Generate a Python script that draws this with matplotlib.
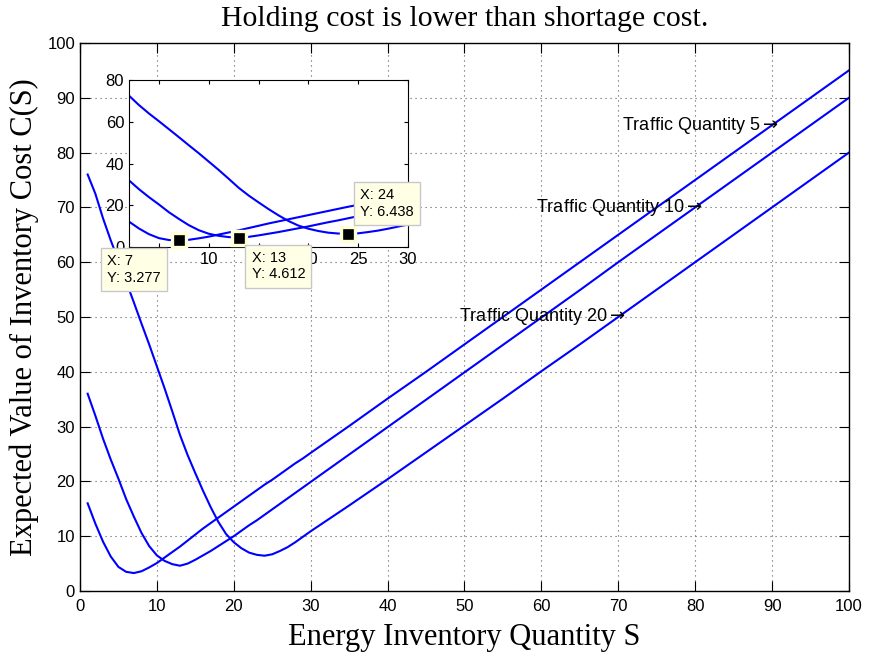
import matplotlib
matplotlib.use("Agg")
import matplotlib.pyplot as plt

# energy inventory quantity S (integer steps near the minima, coarser later)
S = [1, 2, 3, 4, 5, 6, 7, 8, 9, 10, 11, 12, 13, 14, 15, 16, 17, 18, 19, 20,
     21, 22, 23, 24, 25, 26, 27, 28, 29, 30, 35, 40, 45, 50, 55, 60, 65, 70,
     75, 80, 85, 90, 95, 100]

# expected inventory cost C(S) for each traffic quantity
cost_q5 = [16.0, 12.3, 9.0, 6.3, 4.4, 3.5, 3.277, 3.6, 4.3, 5.1, 6.1, 7.1, 8.1,
           9.2, 10.3, 11.4, 12.4, 13.4, 14.4, 15.4, 16.4, 17.4, 18.4, 19.4,
           20.3, 21.3, 22.3, 23.3, 24.2, 25.2, 30.1, 35.1, 40.0, 45.0, 50.0,
           55.0, 60.0, 65.0, 70.0, 75.0, 80.0, 85.0, 90.0, 95.0]
cost_q10 = [36.0, 32.0, 27.8, 24.0, 20.5, 16.8, 13.6, 10.6, 8.2, 6.5, 5.5, 4.9,
            4.612, 5.0, 5.7, 6.5, 7.3, 8.2, 9.1, 10.0, 11.0, 12.0, 12.9, 13.9,
            14.9, 15.9, 16.9, 17.9, 18.9, 19.9, 24.9, 29.9, 34.9, 39.9, 44.9,
            49.9, 54.9, 60.0, 65.0, 70.0, 75.0, 80.0, 85.0, 90.0]
cost_q20 = [76.0, 72.5, 68.0, 64.0, 60.3, 56.5, 52.7, 48.8, 45.0, 41.0, 37.0,
            32.8, 28.5, 24.8, 21.5, 18.3, 15.3, 12.6, 10.4, 8.9, 7.8, 7.0, 6.6,
            6.438, 6.7, 7.3, 8.0, 8.9, 9.9, 10.9, 15.6, 20.4, 25.3, 30.2, 35.1,
            40.1, 45.0, 50.0, 55.0, 60.0, 65.0, 70.0, 75.0, 80.0]

labels = ["Traffic Quantity 5$\\rightarrow$", "Traffic Quantity 10$\\rightarrow$",
          "Traffic Quantity 20$\\rightarrow$"]
label_pos = [(70.5, 85), (59.3, 70), (49.3, 50)]

# data tips shown in the zoomed inset
tips_x = [7, 13, 24]
tips_y = [3.277, 4.612, 6.438]
tip_offsets = [(-72, -14), (13, -13), (12, 46)]

sans = ["Liberation Sans", "DejaVu Sans"]
serif = ["Liberation Serif", "DejaVu Serif"]
plt.rcParams['font.family'] = sans

fig = plt.figure(figsize=(8.71, 6.55), dpi=100)
ax = fig.add_axes([0.0918, 0.0977, 0.8829, 0.8367])

for y in (cost_q5, cost_q10, cost_q20):
    ax.plot(S, y, color='#0000ff', lw=1.5)

for txt, (tx, ty) in zip(labels, label_pos):
    ax.text(tx, ty, txt, ha='left', va='center', fontsize=13, family=sans)

ax.set_xlim(0, 100)
ax.set_ylim(0, 100)
ax.set_xticks(range(0, 101, 10))
ax.set_yticks(range(0, 101, 10))
ax.tick_params(direction='in', length=7, width=0.8, labelsize=12,
               top=True, right=True)
ax.tick_params(axis='x', pad=6)
ax.grid(True, color='0.35', linestyle=(0, (1, 3.5)), lw=0.8)
for sp in ax.spines.values():
    sp.set_linewidth(1.0)

ax.set_title("Holding cost is lower than shortage cost.", family=serif,
             fontsize=21.5, pad=12)
ax.set_xlabel("Energy Inventory Quantity S", family=serif, fontsize=22,
              labelpad=6)
ax.set_ylabel("Expected Value of Inventory Cost C(S)", family=serif,
              fontsize=22, labelpad=6)

# zoomed inset
ins = fig.add_axes([0.1481, 0.6224, 0.3203, 0.2555])
for y in (cost_q5, cost_q10, cost_q20):
    ins.plot(S, y, color='#0000ff', lw=1.5)
ins.set_xlim(2, 30)
ins.set_ylim(0, 80)
ins.set_xticks(range(5, 31, 5))
ins.set_yticks(range(0, 81, 20))
ins.tick_params(direction='in', length=3, width=0.8, labelsize=12,
                top=True, right=True)

ins.plot(tips_x, tips_y, 's', color='black', ms=9.5, mec='#ffffd8', mew=2.4,
         zorder=5, clip_on=False)
for tx, ty, off in zip(tips_x, tips_y, tip_offsets):
    ins.annotate("X: %g\nY: %g" % (tx, ty), xy=(tx, ty), xytext=off,
                 textcoords='offset pixels', ha='left', va='top',
                 fontsize=10.5, linespacing=1.25, zorder=6,
                 annotation_clip=False,
                 bbox=dict(boxstyle='square,pad=0.42', fc='#ffffe6',
                           ec='#c8c8c8', lw=1.0))

fig.savefig("out.png", dpi=100)
